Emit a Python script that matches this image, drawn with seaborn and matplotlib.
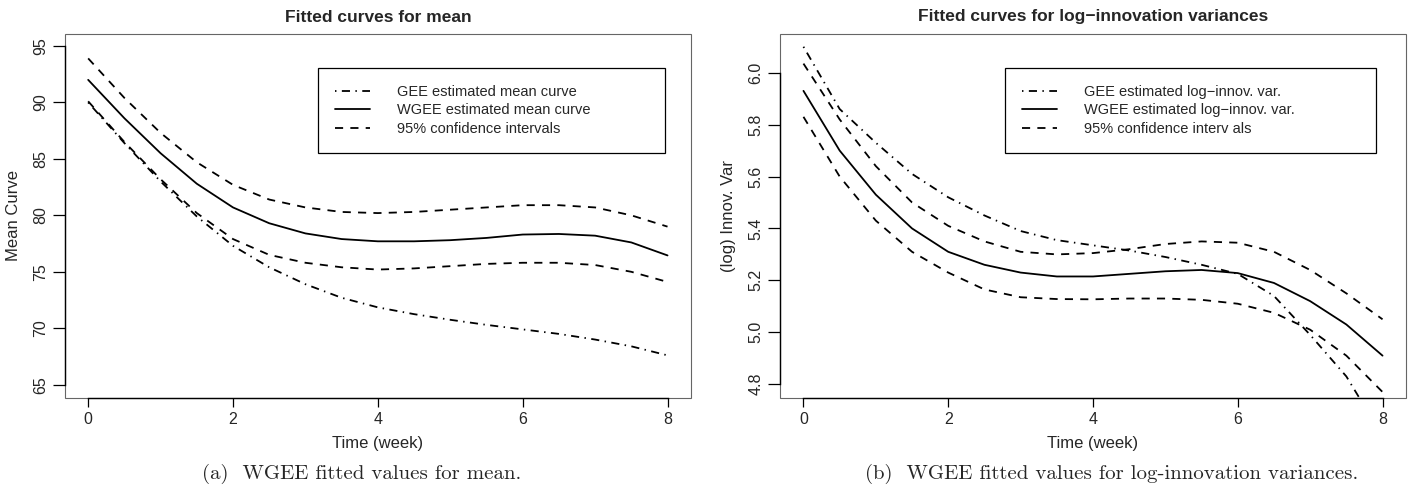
import numpy as np
import pandas as pd
import matplotlib
matplotlib.use("Agg")
import matplotlib.pyplot as plt
import seaborn as sns
from matplotlib.patches import Rectangle

# time grid (weeks)
weeks = [0, 0.5, 1, 1.5, 2, 2.5, 3, 3.5, 4, 4.5, 5, 5.5, 6, 6.5, 7, 7.5, 8]

# panel (a): mean
mean_gee = [90.0, 86.4, 83.0, 79.9, 77.3, 75.4, 73.9, 72.7, 71.85, 71.25, 70.75, 70.3, 69.9, 69.5, 69.0, 68.4, 67.6]
mean_wgee = [92.0, 88.6, 85.5, 82.8, 80.7, 79.3, 78.4, 77.9, 77.7, 77.7, 77.8, 78.0, 78.3, 78.35, 78.2, 77.6, 76.45]
mean_upper = [93.9, 90.4, 87.3, 84.7, 82.7, 81.4, 80.7, 80.3, 80.2, 80.3, 80.5, 80.7, 80.9, 80.9, 80.7, 80.0, 79.0]
mean_lower = [90.1, 86.5, 83.2, 80.2, 77.9, 76.5, 75.8, 75.4, 75.2, 75.3, 75.5, 75.7, 75.8, 75.8, 75.6, 75.0, 74.1]

# panel (b): log-innovation variances
var_gee = [6.10, 5.86, 5.73, 5.61, 5.52, 5.45, 5.39, 5.355, 5.335, 5.315, 5.29, 5.26, 5.225, 5.14, 4.99, 4.83, 4.60]
var_wgee = [5.93, 5.70, 5.53, 5.40, 5.31, 5.26, 5.23, 5.215, 5.215, 5.225, 5.235, 5.24, 5.228, 5.19, 5.12, 5.03, 4.91]
var_upper = [6.035, 5.82, 5.64, 5.50, 5.41, 5.35, 5.31, 5.30, 5.305, 5.32, 5.34, 5.35, 5.345, 5.31, 5.24, 5.15, 5.05]
var_lower = [5.83, 5.60, 5.43, 5.31, 5.23, 5.165, 5.135, 5.128, 5.127, 5.13, 5.13, 5.125, 5.11, 5.075, 5.01, 4.91, 4.77]

sns.set_theme(style="ticks")
plt.rcParams["font.family"] = ["Liberation Sans", "DejaVu Sans"]
plt.rcParams["axes.unicode_minus"] = False

W, H = 1415, 491
fig = plt.figure(figsize=(W / 100, H / 100), dpi=100)
ax1 = fig.add_axes([65 / W, 1 - 397.7 / H, (690.7 - 65) / W, (397.7 - 34) / H])
ax2 = fig.add_axes([780.3 / W, 1 - 397.7 / H, (1405.7 - 780.3) / W, (397.7 - 34) / H])

solid = "-"
dashed = (0, (4.5, 4))
dotdash = (0, (0.8, 3, 4.5, 3))
lw = 1.3


def draw(ax, gee, wgee, upper, lower, labels, anchor):
    df = pd.DataFrame({"week": weeks, "gee": gee, "wgee": wgee, "upper": upper, "lower": lower})
    sns.lineplot(data=df, x="week", y="gee", ax=ax, color="black", lw=lw, linestyle=dotdash, errorbar=None)
    sns.lineplot(data=df, x="week", y="wgee", ax=ax, color="black", lw=lw, linestyle=solid, errorbar=None)
    sns.lineplot(data=df, x="week", y="upper", ax=ax, color="black", lw=lw, linestyle=dashed, errorbar=None)
    sns.lineplot(data=df, x="week", y="lower", ax=ax, color="black", lw=lw, linestyle=dashed, errorbar=None)
    lines = ax.get_lines()
    leg = ax.legend(lines[:3], labels, loc="upper left", bbox_to_anchor=anchor,
                    bbox_transform=ax.transAxes, fontsize=10.5, frameon=True,
                    fancybox=False, framealpha=1, edgecolor="black", borderaxespad=0,
                    handlelength=2.4, handletextpad=1.85, borderpad=1.15, labelspacing=0.32,
                    mode="expand")
    leg.get_frame().set_linewidth(0.9)
    return leg


draw(ax1, mean_gee, mean_wgee, mean_upper, mean_lower,
     ["GEE estimated mean curve", "WGEE estimated mean curve", "95% confidence intervals"],
     (0.404, 0.50, 0.555, 0.4065))
draw(ax2, var_gee, var_wgee, var_upper, var_lower,
     ["GEE estimated log\u2212innov. var.", "WGEE estimated log\u2212innov. var.", "95% confidence interv als"],
     (0.359, 0.50, 0.593, 0.4065))

ax1.set_xlim(-0.32, 8.32)
ax1.set_ylim(63.85, 96.06)
ax1.set_yticks([65, 70, 75, 80, 85, 90, 95])
ax2.set_xlim(-0.32, 8.32)
ax2.set_ylim(4.748, 6.149)
ax2.set_yticks([4.8, 5.0, 5.2, 5.4, 5.6, 5.8, 6.0])
ax2.set_yticklabels(["4.8", "5.0", "5.2", "5.4", "5.6", "5.8", "6.0"])

titles = ["Fitted curves for mean", "Fitted curves for log\u2212innovation variances"]
ylabels = ["Mean Curve", "(log) Innov. Var"]
ybounds = [(65, 95), (4.8, 6.0)]
for ax, t, yl, yb in zip([ax1, ax2], titles, ylabels, ybounds):
    ax.set_xticks([0, 2, 4, 6, 8])
    ax.set_title(t, fontsize=12.5, fontweight="bold", pad=9)
    ax.set_xlabel("Time (week)", fontsize=12, labelpad=6)
    ax.set_ylabel(yl, fontsize=12, labelpad=9)
    ax.tick_params(axis="x", length=6.5, width=0.9, pad=4, labelsize=11.5, color="black")
    ax.tick_params(axis="y", length=9, width=0.9, pad=3, labelsize=11.5, color="black")
    plt.setp(ax.get_yticklabels(), rotation=90, va="center")
    for side in ["top", "right"]:
        ax.spines[side].set_visible(False)
    ax.spines["bottom"].set_bounds(0, 8)
    ax.spines["left"].set_bounds(*yb)
    for side in ["bottom", "left"]:
        ax.spines[side].set_color("black")
        ax.spines[side].set_linewidth(1.0)
    ax.add_patch(Rectangle((0, 0), 1, 1, transform=ax.transAxes, fill=False,
                           ec="0.4", lw=0.8, clip_on=False, zorder=0.5))
    ax.grid(False)

fig.text(362 / W, 17 / H, "(a)  WGEE fitted values for mean.", ha="center", va="center",
         family="cmr10", fontsize=15)
fig.text(1112 / W, 17 / H, "(b)  WGEE fitted values for log-innovation variances.", ha="center",
         va="center", family="cmr10", fontsize=15)

fig.savefig("out.png", dpi=100)
